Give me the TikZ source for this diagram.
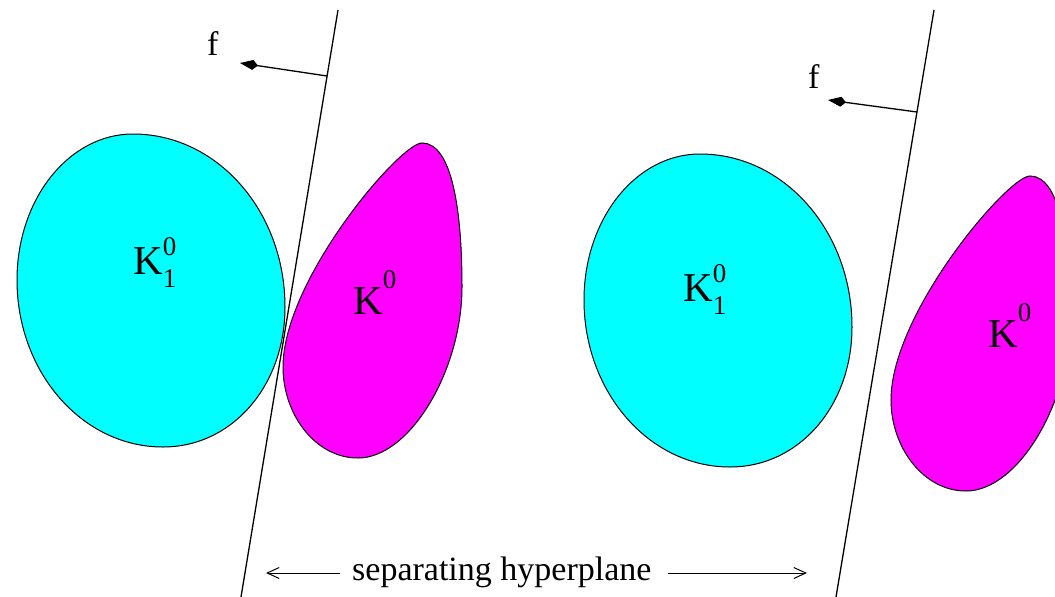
\documentclass[tikz,border=0pt]{standalone}
\usepackage{fontspec}
\setmainfont{Liberation Serif}
\usetikzlibrary{arrows.meta}
\definecolor{cyanK}{RGB}{0,255,255}
\definecolor{magK}{RGB}{255,0,255}
\newcommand\bigf{\fontsize{34}{34}\selectfont}
\newcommand\bigK{\fontsize{41}{41}\selectfont}
\newcommand\smallK{\fontsize{27}{27}\selectfont}
\newcommand\cyanpath{(133,134) .. controls (217,134) and (285,211) .. (285,307)
  .. controls (285,386) and (232,447) .. (163,447)
  .. controls (82,447) and (17,372) .. (17,280)
  .. controls (17,199) and (69,134) .. (133,134) -- cycle}
\newcommand\magpath{(422,143) .. controls (400,143) and (283,280) .. (283,367)
  .. controls (283,414) and (315,458) .. (358,458)
  .. controls (410,458) and (462,370) .. (462,287)
  .. controls (462,210) and (452,143) .. (422,143) -- cycle}
\begin{document}
\begin{tikzpicture}[x=1pt,y=-1pt,
  blob/.style={draw=black,line width=1pt},
  hyper/.style={draw=black,line width=1.3pt},
  farrow/.style={draw=black,line width=1.3pt,-{Kite[length=18pt,width=10pt,inset=5pt]}},
  sarrow/.style={draw=black,line width=1pt,-{Straight Barb[length=12pt,width=11pt,line width=1pt]}},
  lab/.style={inner sep=0pt,anchor=base west}]
\clip (0,0) rectangle (1055,597);
\fill[white] (0,0) rectangle (1055,597);
% left pair
\filldraw[blob,fill=cyanK] \cyanpath;
\filldraw[blob,fill=magK] \magpath;
% right pair (same shapes, shifted)
\begin{scope}[shift={(567,20)}]
\filldraw[blob,fill=cyanK] \cyanpath;
\end{scope}
\begin{scope}[shift={(608,33)}]
\filldraw[blob,fill=magK] \magpath;
\end{scope}
% hyperplanes
\coordinate (h1t) at (338,10);
\coordinate (h1b) at (241,597);
\coordinate (h2t) at (934,10);
\coordinate (h2b) at (836,597);
\draw[hyper] (h1t) -- (h1b);
\draw[hyper] (h2t) -- (h2b);
% normals f
\coordinate (f1s) at (327,76);
\coordinate (f1e) at (240,63);
\coordinate (f2s) at (917,112);
\coordinate (f2e) at (828,100);
\draw[farrow] (f1s) -- (f1e);
\draw[farrow] (f2s) -- (f2e);
\node[lab] (fl) at (207,55) {\bigf f};
\node[lab] (fr) at (808,88) {\bigf f};
% labels
\node[lab] (k1l) at (133,274) {\bigK K\rlap{\raisebox{19pt}{\smallK 0}}\raisebox{-13pt}{\smallK 1}};
\node[lab] (k0l) at (353,314) {\bigK K\raisebox{26pt}{\smallK 0}};
\node[lab] (k1r) at (683,301) {\bigK K\rlap{\raisebox{19pt}{\smallK 0}}\raisebox{-13pt}{\smallK 1}};
\node[lab] (k0r) at (988,347) {\bigK K\raisebox{26pt}{\smallK 0}};
% bottom caption
\node[lab] (sep) at (352,580) {\bigf separating hyperplane};
\coordinate (la) at (340,573);
\coordinate (lb) at (266,573);
\coordinate (ra) at (668,573);
\coordinate (rb) at (807,573);
\draw[sarrow] (la) -- (lb);
\draw[sarrow] (ra) -- (rb);
\end{tikzpicture}
\end{document}
